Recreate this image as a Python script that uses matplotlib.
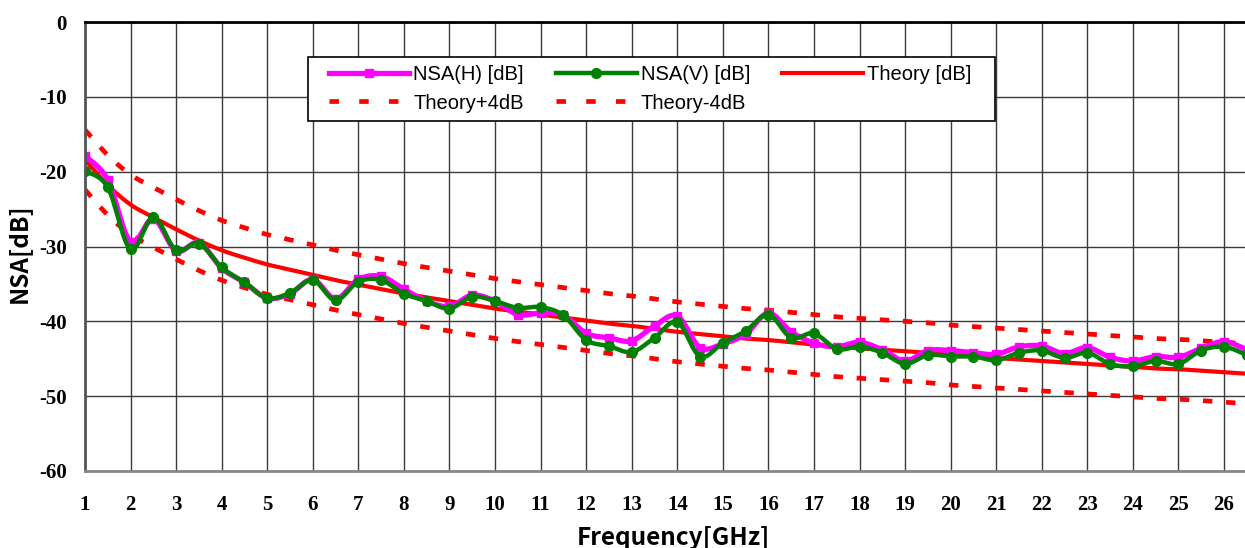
import numpy as np
import matplotlib
matplotlib.use("Agg")
import matplotlib.pyplot as plt
from matplotlib.lines import Line2D
from matplotlib.patches import Rectangle

plt.rcParams['axes.unicode_minus'] = False

# ---------------- data ----------------
freq = np.arange(1.0, 26.51, 0.5)  # GHz, 0.5 GHz steps

nsa_h = [-17.9, -21.1, -29.4, -26.3, -30.6, -29.5, -32.9, -34.8, -36.9, -36.3,
         -34.4, -37.0, -34.4, -34.0, -35.7, -37.3, -38.0, -36.5, -37.3, -39.1,
         -38.9, -39.2, -41.6, -42.2, -42.6, -40.6, -39.3, -43.5, -43.0, -41.7,
         -38.9, -41.4, -42.9, -43.4, -42.8, -43.8, -45.3, -43.9, -43.9, -44.2,
         -44.4, -43.4, -43.3, -44.3, -43.5, -44.8, -45.3, -44.7, -44.8, -43.6,
         -42.7, -43.8]

nsa_v = [-19.9, -22.1, -30.4, -26.1, -30.5, -29.6, -32.8, -34.8, -36.9, -36.2,
         -34.5, -37.2, -34.7, -34.5, -36.3, -37.3, -38.3, -36.7, -37.3, -38.2,
         -38.1, -39.2, -42.5, -43.3, -44.1, -42.2, -40.1, -44.7, -42.9, -41.3,
         -39.1, -42.2, -41.6, -43.7, -43.4, -44.2, -45.7, -44.5, -44.7, -44.7,
         -45.2, -44.2, -43.9, -44.9, -44.2, -45.7, -46.0, -45.3, -45.7, -43.9,
         -43.4, -44.5]

theory = [-18.4, -21.8, -24.4, -26.1, -27.7, -29.2, -30.5, -31.5, -32.4, -33.1,
          -33.8, -34.5, -35.1, -35.7, -36.3, -36.8, -37.3, -37.8, -38.3, -38.7,
          -39.1, -39.5, -39.9, -40.3, -40.6, -41.0, -41.4, -41.7, -42.0, -42.3,
          -42.5, -42.8, -43.1, -43.4, -43.6, -43.8, -44.0, -44.2, -44.5, -44.7,
          -44.9, -45.1, -45.3, -45.5, -45.7, -45.9, -46.1, -46.3, -46.4, -46.6,
          -46.8, -47.0]

tolerance_db = 4.0

x_ticks = list(range(1, 27))
y_ticks = [0, -10, -20, -30, -40, -50, -60]

labels = ["NSA(H) [dB]", "NSA(V) [dB]", "Theory [dB]", "Theory+4dB", "Theory-4dB"]


def smooth(x, y, n=14):
    """Catmull-Rom rendering of a polyline (Excel-like smoothed line)."""
    pts = np.column_stack([np.asarray(x, float), np.asarray(y, float)])
    P = np.vstack([pts[0], pts, pts[-1]])
    out = []
    t = np.linspace(0, 1, n, endpoint=False)[:, None]
    for i in range(1, len(P) - 2):
        p0, p1, p2, p3 = P[i - 1], P[i], P[i + 1], P[i + 2]
        seg = 0.5 * ((2 * p1) + (-p0 + p2) * t + (2 * p0 - 5 * p1 + 4 * p2 - p3) * t ** 2
                     + (-p0 + 3 * p1 - 3 * p2 + p3) * t ** 3)
        out.append(seg)
    out.append(pts[-1:])
    s = np.vstack(out)
    return s[:, 0], s[:, 1]


W, H = 1245, 548
fig = plt.figure(figsize=(W / 100, H / 100), dpi=100)
ax = fig.add_axes([85 / W, 77 / H, 1161.8 / W, 449 / H])

ax.set_xlim(1, 26.5)
ax.set_ylim(-60, 0)

th = np.asarray(theory)
upper = th + tolerance_db
lower = th - tolerance_db

RED = '#FF0000'
MAG = '#FF00FF'
GRN = '#008000'
DLW = 3.4
dash = (0, (2.0, 2.9))

xs, ys = smooth(freq, upper)
ax.plot(xs, ys, color=RED, lw=DLW, ls=dash, dash_capstyle='butt', zorder=2)
xs, ys = smooth(freq, lower)
ax.plot(xs, ys, color=RED, lw=DLW, ls=dash, dash_capstyle='butt', zorder=2)
xs, ys = smooth(freq, th)
ax.plot(xs, ys, color=RED, lw=3.0, solid_capstyle='round', zorder=2.1)

xs, ys = smooth(freq, nsa_h)
ax.plot(xs, ys, color=MAG, lw=3.8, solid_joinstyle='round', zorder=2.2)
ax.plot(freq, nsa_h, ls='none', marker='s', ms=6.4, color=MAG, mec=MAG, zorder=2.3)

xs, ys = smooth(freq, nsa_v)
ax.plot(xs, ys, color=GRN, lw=3.2, solid_joinstyle='round', zorder=2.4)
ax.plot(freq, nsa_v, ls='none', marker='o', ms=7.0, color=GRN, mec=GRN, zorder=2.5)

# grid & axes styling
ax.set_xticks(x_ticks)
ax.set_yticks(y_ticks)
ax.set_xticklabels([str(v) for v in x_ticks])
ax.set_yticklabels([str(v) for v in y_ticks])
ax.grid(True, color='#3a3a3a', lw=1.0, zorder=0)
ax.set_axisbelow(True)
for lab in ax.get_xticklabels() + ax.get_yticklabels():
    lab.set_fontfamily('Liberation Serif')
    lab.set_fontweight('bold')
    lab.set_fontsize(15)
ax.tick_params(axis='x', length=0, pad=17)
ax.tick_params(axis='y', length=0, pad=13)
ax.spines['right'].set_visible(False)
ax.spines['top'].set_color('black')
ax.spines['top'].set_linewidth(2.0)
ax.spines['left'].set_color('#555555')
ax.spines['left'].set_linewidth(2.0)
ax.spines['bottom'].set_color('#888888')
ax.spines['bottom'].set_linewidth(2.0)

# axis titles
fig.text(673 / W, 3.5 / H, "Frequency[GHz]", ha='center', va='baseline',
         fontsize=17.5, fontweight='bold', family=['Noto Sans CJK JP', 'DejaVu Sans'])
fig.text(19 / W, 1 - 253 / H, "NSA[dB]", ha='center', va='center', rotation=90,
         fontsize=17.5, fontweight='bold', family=['Noto Sans CJK JP', 'DejaVu Sans'])

# legend box
rect = Rectangle((308 / W, 1 - 121 / H), (995 - 308) / W, 64 / H, transform=fig.transFigure,
                 facecolor='white', edgecolor='black', lw=1.2, zorder=4, clip_on=False)
ax.add_patch(rect)

h_h = Line2D([], [], color=MAG, lw=3.8, marker='s', ms=6.4, mec=MAG)
h_v = Line2D([], [], color=GRN, lw=3.2, marker='o', ms=7.0, mec=GRN)
h_t = Line2D([], [], color=RED, lw=3.0)
h_p = Line2D([], [], color=RED, lw=DLW, ls=(0, (2.0, 4.3)), dash_capstyle='butt')
h_m = Line2D([], [], color=RED, lw=DLW, ls=(0, (2.0, 4.3)), dash_capstyle='butt')
handles = [h_h, h_p, h_v, h_m, h_t]
leg_labels = [labels[0], labels[3], labels[1], labels[4], labels[2]]
leg = ax.legend(handles, leg_labels, ncol=3, loc='center',
                bbox_to_anchor=(650 / W, 1 - 89 / H), bbox_transform=fig.transFigure,
                frameon=False, numpoints=1, handlelength=4.0, handletextpad=0.2,
                columnspacing=1.6, labelspacing=0.45, borderpad=0.0,
                prop={'family': 'Liberation Sans', 'size': 14.5})
leg.set_zorder(5)

fig.savefig("out.png", dpi=100)
